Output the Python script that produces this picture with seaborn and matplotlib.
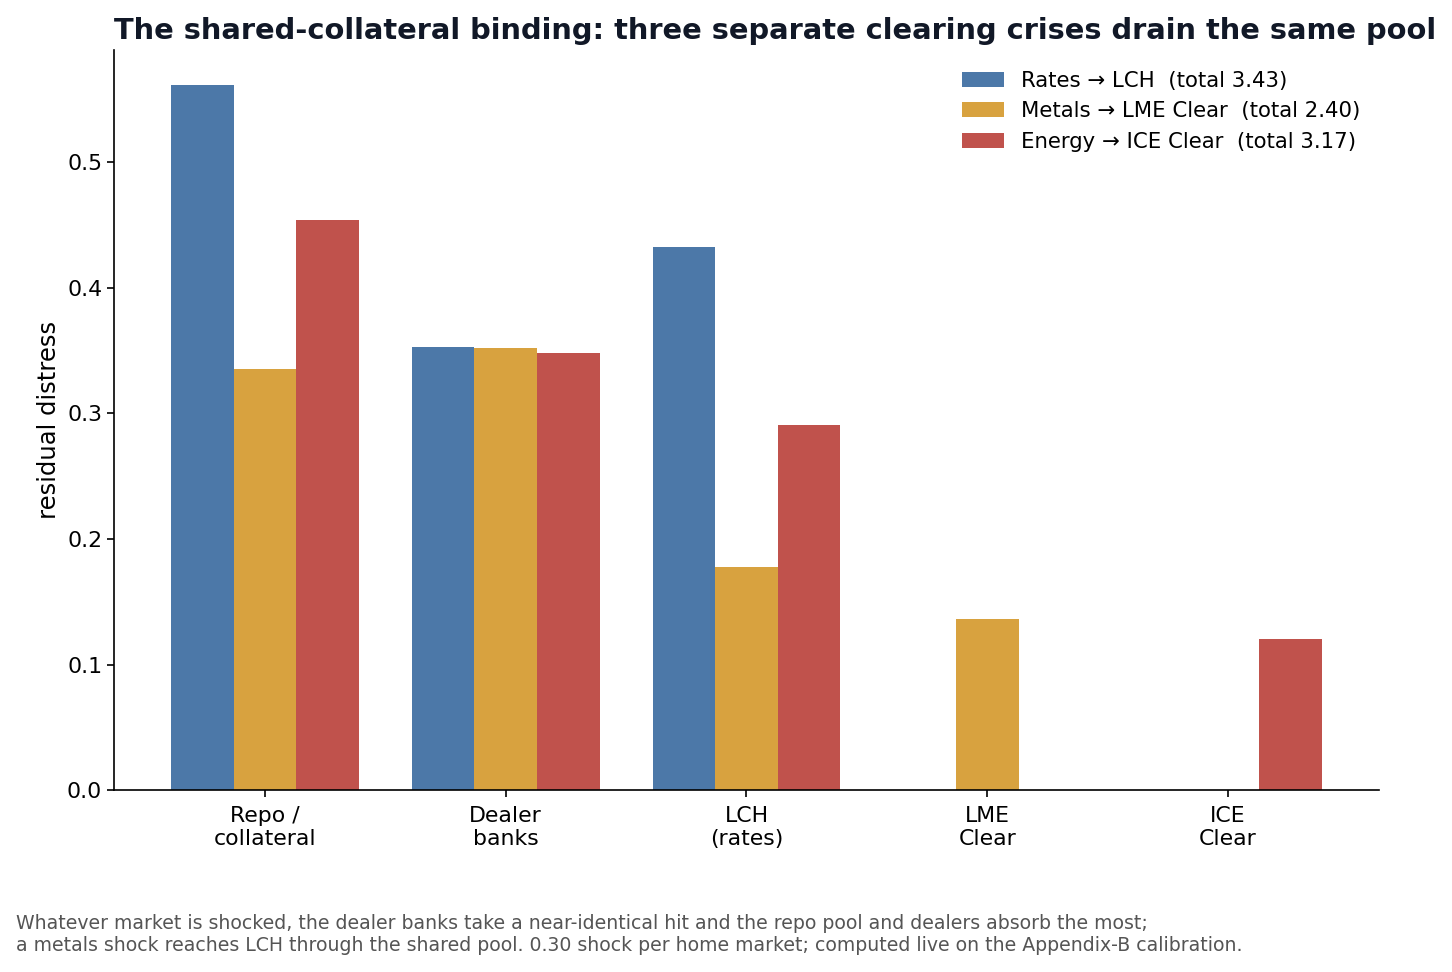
import pandas as pd
import matplotlib
matplotlib.use("Agg")
import matplotlib.pyplot as plt
import seaborn as sns

# node labels on the x axis
nodes = ["Repo /\ncollateral", "Dealer\nbanks", "LCH\n(rates)", "LME\nClear", "ICE\nClear"]

# residual distress per node, one list per shocked market
rates_lch = [0.561, 0.353, 0.432, 0.0, 0.0]
metals_lme = [0.335, 0.352, 0.178, 0.136, 0.0]
energy_ice = [0.454, 0.348, 0.291, 0.0, 0.120]

scenarios = ["Rates \u2192 LCH  (total 3.43)",
             "Metals \u2192 LME Clear  (total 2.40)",
             "Energy \u2192 ICE Clear  (total 3.17)"]
colors = ["#4C78A8", "#D8A23F", "#C0524C"]

rows = []
for label, vals in zip(scenarios, [rates_lch, metals_lme, energy_ice]):
    for node, v in zip(nodes, vals):
        rows.append({"node": node, "scenario": label, "distress": v})
df = pd.DataFrame(rows)

sns.set_style("ticks", {"axes.edgecolor": "black", "text.color": "black",
                        "axes.labelcolor": "black", "xtick.color": "black",
                        "ytick.color": "black"})
plt.rcParams["font.family"] = ["DejaVu Sans"]
plt.rcParams["axes.linewidth"] = 1.2

fig = plt.figure(figsize=(14.52, 9.72), dpi=100)
ax = fig.add_axes([0.0785, 0.187, 0.8712, 0.7615])

sns.barplot(data=df, x="node", y="distress", hue="scenario", order=nodes,
            hue_order=scenarios, palette=colors, width=0.78, saturation=1,
            errorbar=None, linewidth=0, ax=ax)

ax.set_xlim(-0.627, 4.627)
ax.set_ylim(0, 0.589)
ax.set_yticks([0.0, 0.1, 0.2, 0.3, 0.4, 0.5])
ax.tick_params(axis="both", labelsize=15.8, length=5, width=1.2)
ax.tick_params(axis="x", pad=6)
ax.set_xlabel("")
ax.set_ylabel("residual distress", fontsize=17.5)
sns.despine(ax=ax)

ax.legend(title=None, frameon=False, fontsize=15.3, loc="upper right",
          bbox_to_anchor=(1.0005, 0.998))

ax.set_title("The shared-collateral binding: three separate clearing crises drain the same pool",
             loc="left", fontsize=20.8, fontweight="bold", color="#111827", pad=8)

fig.text(0.011, 0.018,
         "Whatever market is shocked, the dealer banks take a near-identical hit and the repo pool and dealers absorb the most;\n"
         "a metals shock reaches LCH through the shared pool. 0.30 shock per home market; computed live on the Appendix-B calibration.",
         fontsize=13.6, color="#555555", ha="left", va="bottom")

fig.savefig("out.png", dpi=100)
